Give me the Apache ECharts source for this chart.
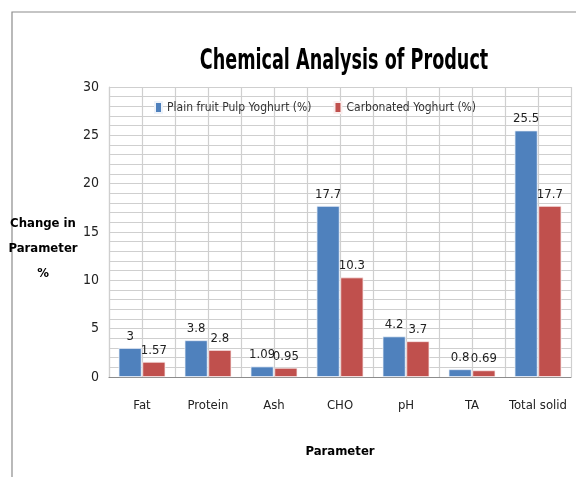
<!DOCTYPE html>
<html>
<head>
<meta charset="utf-8">
<script src="https://cdn.jsdelivr.net/npm/echarts@6/dist/echarts.min.js"></script>
<style>html,body{margin:0;padding:0;background:#fff;}#c{width:576px;height:477px;}</style>
</head>
<body>
<div id="c"></div>
<script>
var categories = ['Fat', 'Protein', 'Ash', 'CHO', 'pH', 'TA', 'Total solid'];
var plainValues = [3, 3.8, 1.09, 17.7, 4.2, 0.8, 25.5];
var carbonatedValues = [1.57, 2.8, 0.95, 10.3, 3.7, 0.69, 17.7];
var seriesNames = ['Plain fruit Pulp Yoghurt (%)', 'Carbonated Yoghurt (%)'];
var yTicks = [0, 5, 10, 15, 20, 25, 30];

var FONT = "'DejaVu Sans Condensed', 'Liberation Sans Narrow', sans-serif";
var chart = echarts.init(document.getElementById('c'), null, {renderer: 'canvas'});
var gridColor = '#cfcfcf';
chart.setOption({
  backgroundColor: '#fff',
  animation: false,
  legend: {
    left: 149, top: 96,
    itemWidth: 7, itemHeight: 11, itemGap: 22,
    icon: 'rect',
    textStyle: {fontFamily: FONT, fontSize: 12, color: '#333'},
    data: seriesNames
  },
  graphic: [
    {type: 'polyline', shape: {points: [[12, 480], [12, 12], [580, 12]]}, style: {stroke: '#8c8c8c', lineWidth: 1.2, fill: null}, z: 0},
    {type: 'text', x: 344, y: 61, scaleX: 0.675, style: {text: 'Chemical Analysis of Product', x: 0, y: 0, textAlign: 'center', textVerticalAlign: 'middle', fontFamily: FONT, fontSize: 29, fontWeight: 'bold', fill: '#000'}},
    {type: 'text', x: 43, y: 211, style: {text: 'Change in\nParameter\n%', x: 0, y: 0, textAlign: 'center', fontFamily: FONT, fontSize: 13, fontWeight: 'bold', lineHeight: 25, fill: '#000'}}
  ],
  grid: {left: 109, right: 5, top: 87, bottom: 100, containLabel: false},
  xAxis: [
    {
      type: 'category', data: categories,
      axisLine: {lineStyle: {color: '#8c8c8c', width: 1.2}},
      axisTick: {show: false},
      axisLabel: {interval: 0, fontFamily: FONT, fontSize: 13, color: '#222', margin: 22},
      splitLine: {show: false},
      name: 'Parameter', nameLocation: 'middle', nameGap: 68,
      nameTextStyle: {fontFamily: FONT, fontSize: 13, fontWeight: 'bold', color: '#000'}
    },
    {
      type: 'value', min: 0, max: categories.length * 2, interval: 1,
      show: true, position: 'top',
      axisLine: {show: false}, axisTick: {show: false}, axisLabel: {show: false},
      splitLine: {show: true, lineStyle: {color: gridColor, width: 1.2}}
    }
  ],
  yAxis: {
    type: 'value', min: yTicks[0], max: yTicks[yTicks.length - 1], interval: 5,
    axisLine: {show: true, lineStyle: {color: gridColor, width: 1.2}},
    axisTick: {show: false},
    axisLabel: {fontFamily: FONT, fontSize: 14, color: '#222', margin: 10},
    splitLine: {show: true, lineStyle: {color: gridColor, width: 1.2}},
    minorTick: {show: false, splitNumber: 5},
    minorSplitLine: {show: true, lineStyle: {color: gridColor, width: 1.2}}
  },
  series: [
    {
      name: seriesNames[0], type: 'bar', data: plainValues, xAxisIndex: 0,
      barGap: '3%', barCategoryGap: '29%',
      itemStyle: {color: '#4F81BD', borderColor: '#eef3fa', borderWidth: 0.8},
      label: {show: true, position: 'top', distance: 5, fontFamily: FONT, fontSize: 13, color: '#222'}
    },
    {
      name: seriesNames[1], type: 'bar', data: carbonatedValues, xAxisIndex: 0,
      itemStyle: {color: '#C0504D', borderColor: '#faeeee', borderWidth: 0.8},
      label: {show: true, position: 'top', distance: 5, fontFamily: FONT, fontSize: 13, color: '#222'}
    }
  ]
});
</script>
</body>
</html>
